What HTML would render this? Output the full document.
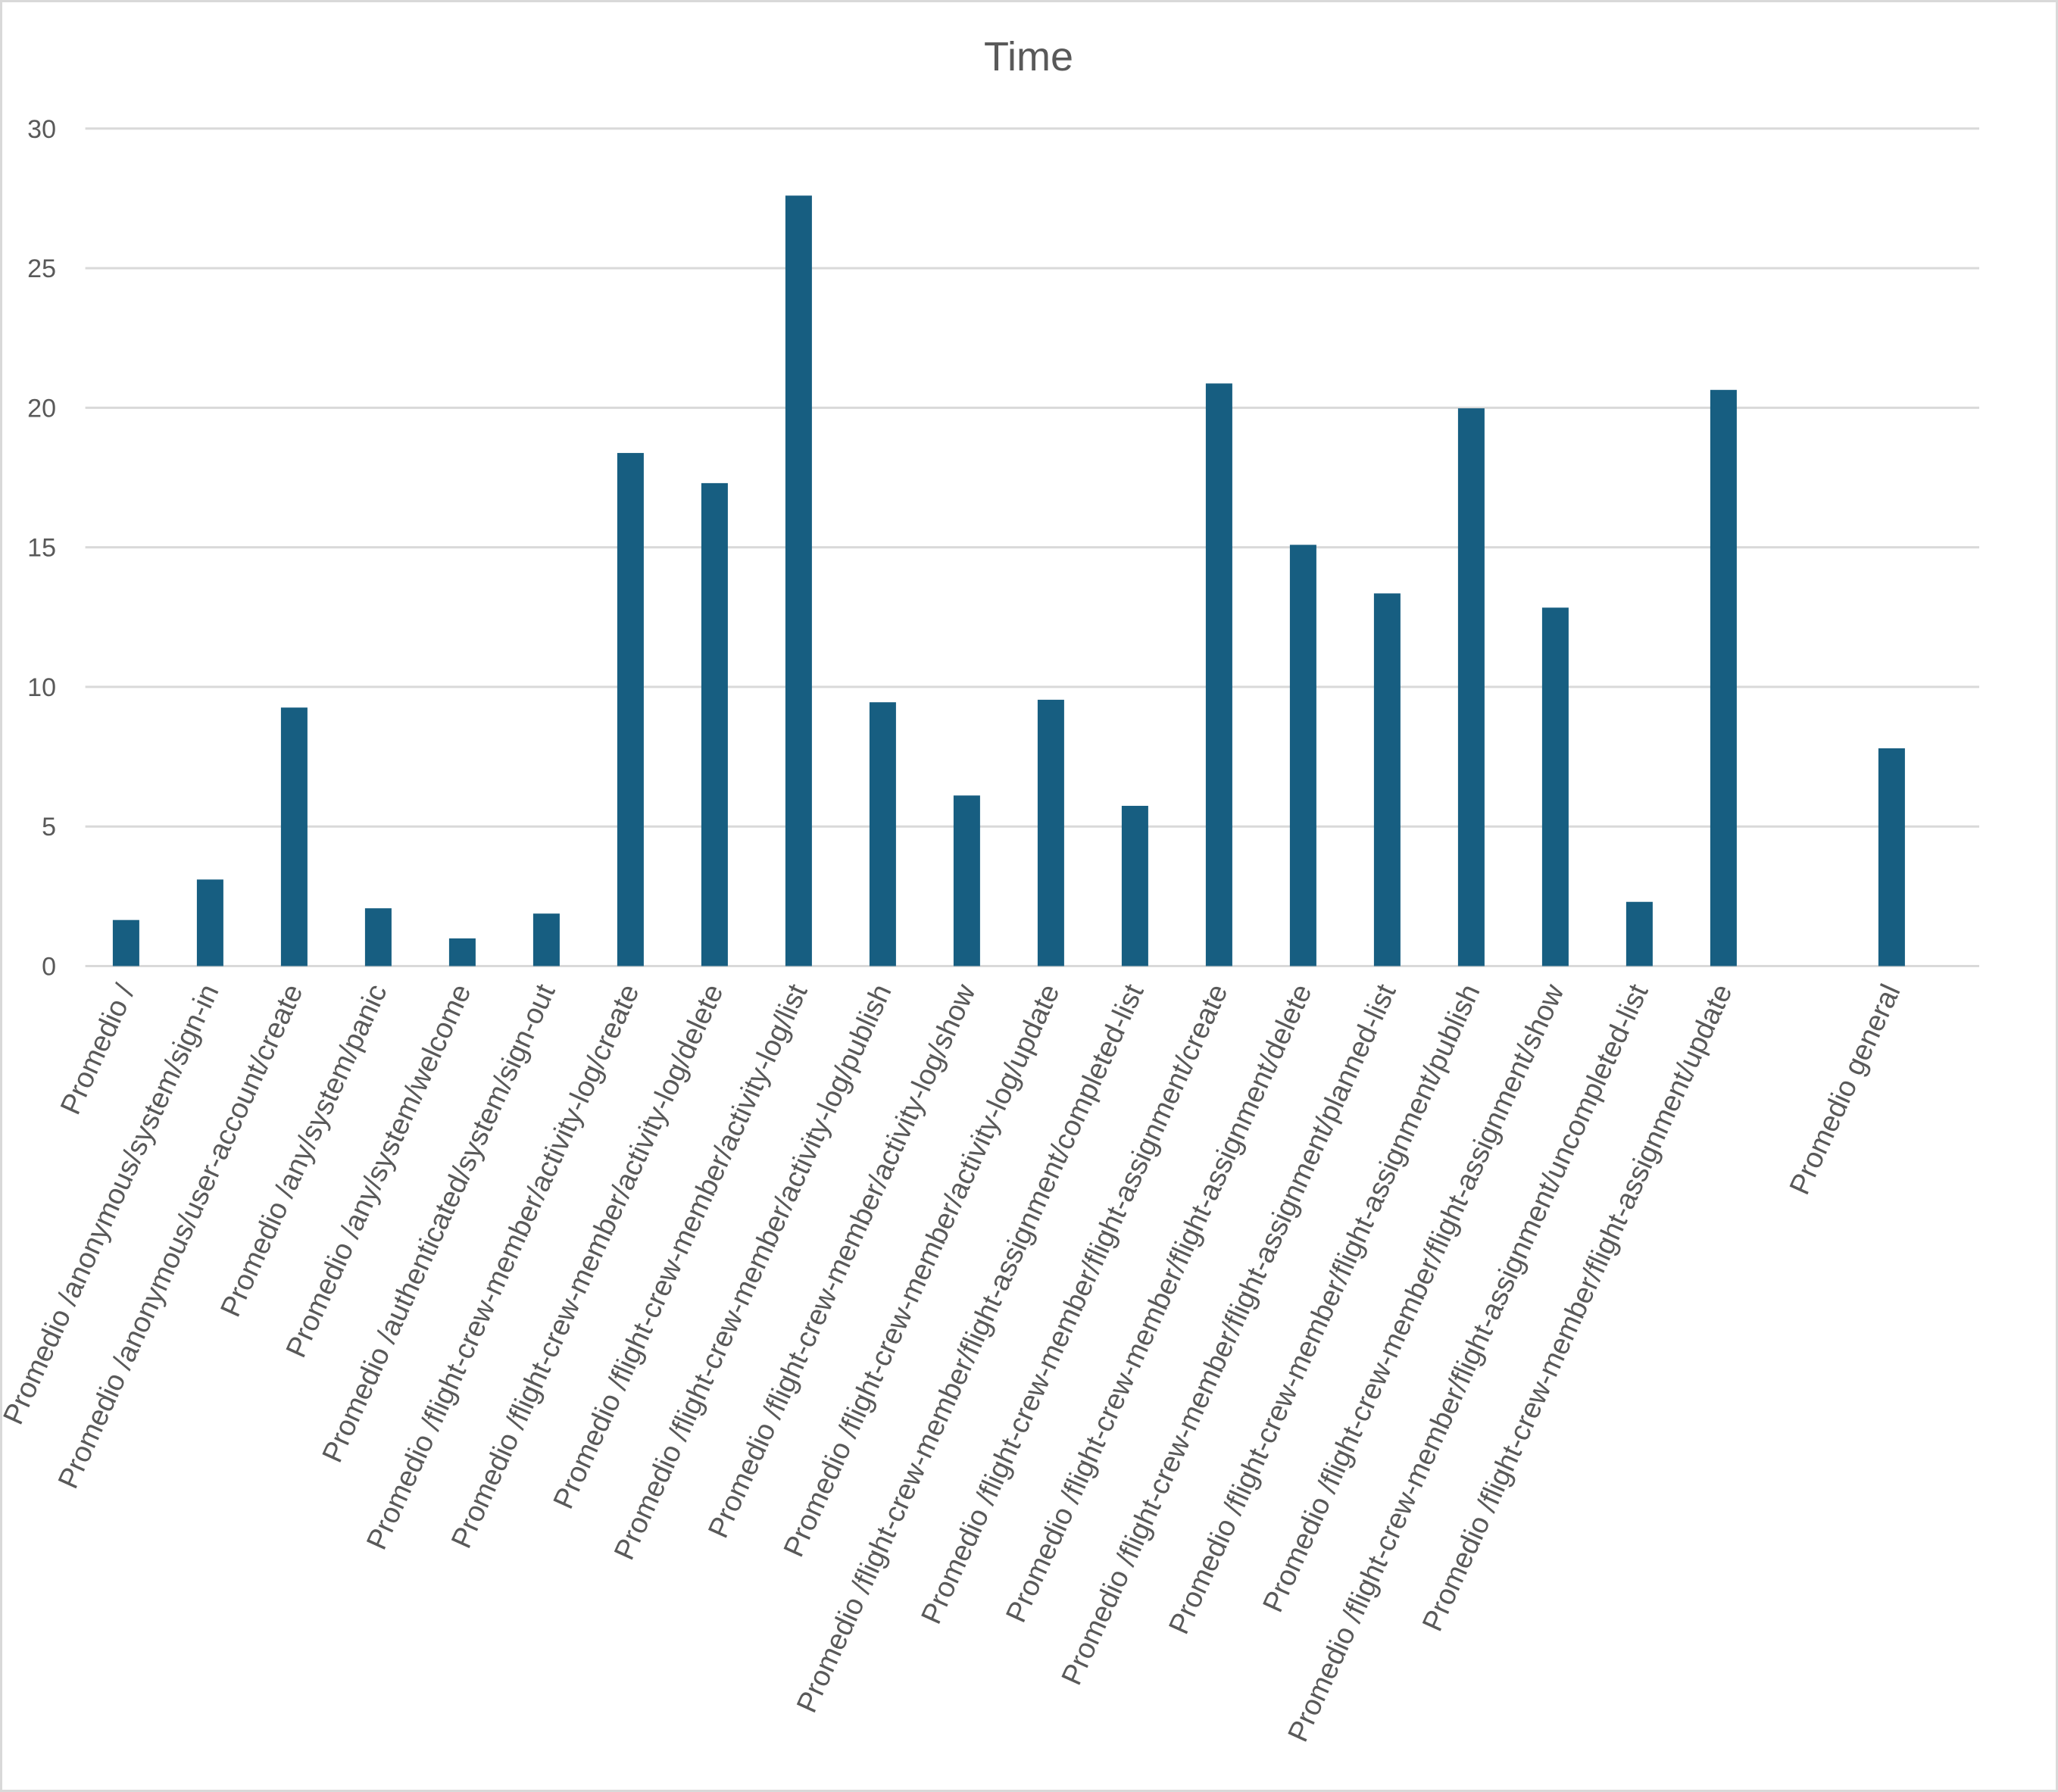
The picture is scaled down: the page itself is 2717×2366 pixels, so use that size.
<!DOCTYPE html>
<html><head><meta charset="utf-8"><style>
html,body{margin:0;padding:0;background:#fff}
svg{display:block;font-family:"Liberation Sans",sans-serif}
</style></head><body>
<svg id="chart" width="2717" height="2366" viewBox="0 0 2717 2366" xmlns="http://www.w3.org/2000/svg">
<rect x="1.5" y="1.5" width="2714" height="2363" fill="#fff" stroke="#d9d9d9" stroke-width="3"/>
<text x="1358" y="93" text-anchor="middle" font-size="54" fill="#595959">Time</text>
<g id="grid"></g><g id="bars"></g><g id="xlabels"></g>
</svg>
<script>
const categories = ["Promedio /","Promedio /anonymous/system/sign-in","Promedio /anonymous/user-account/create","Promedio /any/system/panic","Promedio /any/system/welcome","Promedio /authenticated/system/sign-out","Promedio /flight-crew-member/activity-log/create","Promedio /flight-crew-member/activity-log/delete","Promedio /flight-crew-member/activity-log/list","Promedio /flight-crew-member/activity-log/publish","Promedio /flight-crew-member/activity-log/show","Promedio /flight-crew-member/activity-log/update","Promedio /flight-crew-member/flight-assignment/completed-list","Promedio /flight-crew-member/flight-assignment/create","Promedio /flight-crew-member/flight-assignment/delete","Promedio /flight-crew-member/flight-assignment/planned-list","Promedio /flight-crew-member/flight-assignment/publish","Promedio /flight-crew-member/flight-assignment/show","Promedio /flight-crew-member/flight-assignment/uncompleted-list","Promedio /flight-crew-member/flight-assignment/update","","Promedio general"];
const values = [1.65,3.1,9.26,2.07,0.99,1.88,18.38,17.3,27.6,9.45,6.11,9.54,5.74,20.87,15.09,13.35,19.98,12.84,2.3,20.64,null,7.8];
const yTicks = [0,5,10,15,20,25,30];

const NS="http://www.w3.org/2000/svg";
const X0=112.6, X1=2613, Y0=1275.5, Y30=169.8;
const yScale=v=>Y0-(v/30)*(Y0-Y30);
const xScale=i=>166.4+i*111.0;
const BW=35;
function mk(t,a){const e=document.createElementNS(NS,t);for(const k in a)e.setAttribute(k,a[k]);return e;}
const grid=document.getElementById('grid');
yTicks.forEach(t=>{
  const l=mk('line',{x1:X0,x2:X1,y1:yScale(t),y2:yScale(t),stroke:'#d9d9d9','stroke-width':3});
  
  
  grid.appendChild(l);
  const tx=mk('text',{x:74,y:yScale(t)+12,'text-anchor':'end','font-size':34,fill:'#595959'});
  tx.textContent=t;
  
  
  grid.appendChild(tx);
});
const bars=document.getElementById('bars'), xl=document.getElementById('xlabels');
categories.forEach((c,i)=>{
  const v=values[i];
  if(v!=null){
    const r=mk('rect',{x:xScale(i)-BW/2,y:yScale(v),width:BW,height:Y0-yScale(v),fill:'#175e81'});
    
    
    bars.appendChild(r);
  }
  if(c){
    const cx=xScale(i)+12, cy=1307;
    const t=mk('text',{x:cx,y:cy,'text-anchor':'end','font-size':38,fill:'#595959',transform:`rotate(-65.5 ${cx} ${cy})`});
    t.textContent=c;
    
    
    xl.appendChild(t);
  }
});
</script>
</body></html>
